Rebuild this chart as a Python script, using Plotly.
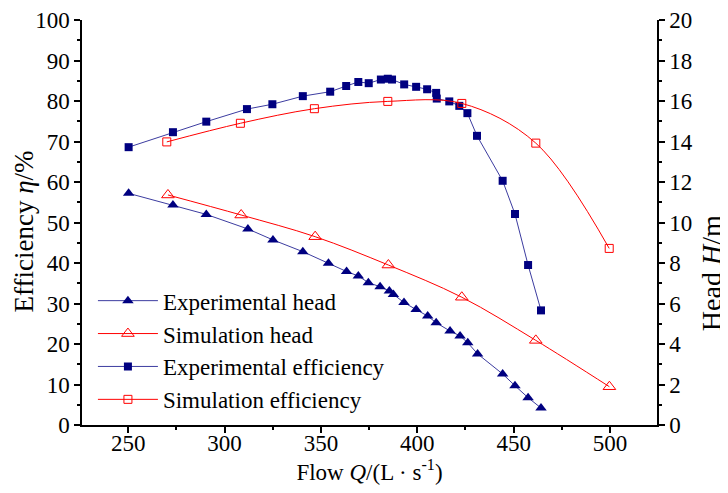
import plotly.graph_objects as go

# Experimental head (L/s, m)
exp_head_q = [250.2, 273.2, 290.5, 312.1, 325.1, 340.6, 353.9, 363.3, 369.4, 374.6, 380.7,
              385.5, 387.6, 393.1, 399.4, 405.4, 409.8, 417.0, 422.2, 426.2, 431.3,
              444.3, 450.7, 457.5, 464.2]
exp_head_h = [11.44, 10.86, 10.40, 9.68, 9.14, 8.56, 7.99, 7.58, 7.36, 7.03, 6.83,
              6.62, 6.45, 6.05, 5.70, 5.38, 5.05, 4.64, 4.40, 4.06, 3.51,
              2.52, 1.94, 1.35, 0.84]

# Simulation head
sim_head_q = [270.6, 308.6, 347.0, 385.0, 423.1, 461.5, 499.7]
sim_head_h = [11.36, 10.37, 9.30, 7.90, 6.31, 4.18, 1.89]

# Experimental efficiency (%)
exp_eff_q = [250.2, 273.2, 290.5, 311.6, 324.8, 340.6, 354.8, 363.1, 369.4, 374.8, 381.1,
             384.7, 386.9, 393.2, 399.4, 405.1, 409.8, 410.1, 416.6, 421.8, 426.0,
             431.0, 444.3, 450.7, 457.5, 464.2]
exp_eff_e = [68.6, 72.3, 74.9, 78.0, 79.2, 81.2, 82.3, 83.7, 84.7, 84.4, 85.3,
             85.5, 85.3, 84.1, 83.5, 82.9, 82.0, 80.6, 79.9, 78.8, 77.0,
             71.4, 60.3, 52.1, 39.5, 28.3]

# Simulation efficiency
sim_eff_q = [270.0, 308.2, 346.6, 384.7, 423.1, 461.5, 499.6]
sim_eff_e = [69.9, 74.5, 78.1, 79.9, 79.4, 69.6, 43.6]

NAVY = "#000080"
NAVY_LINE = "#3c3ca0"
RED = "#ff0000"
FONT = "Times New Roman, Liberation Serif, serif"

fig = go.Figure()
fig.add_trace(go.Scatter(x=exp_head_q, y=exp_head_h, yaxis="y2", mode="lines+markers",
                         name="Experimental head",
                         line=dict(color=NAVY_LINE, width=1),
                         marker=dict(symbol="triangle-up", size=10, color=NAVY)))
fig.add_trace(go.Scatter(x=sim_head_q, y=sim_head_h, yaxis="y2", mode="lines+markers",
                         name="Simulation head",
                         line=dict(color=RED, width=1, shape="spline"),
                         marker=dict(symbol="triangle-up-open", size=11, color=RED,
                                     line=dict(width=1))))
fig.add_trace(go.Scatter(x=exp_eff_q, y=exp_eff_e, mode="lines+markers",
                         name="Experimental efficiency",
                         line=dict(color=NAVY_LINE, width=1),
                         marker=dict(symbol="square", size=8, color=NAVY)))
fig.add_trace(go.Scatter(x=sim_eff_q, y=sim_eff_e, mode="lines+markers",
                         name="Simulation efficiency",
                         line=dict(color=RED, width=1, shape="spline"),
                         marker=dict(symbol="square-open", size=8, color=RED,
                                     line=dict(width=1))))

axis_common = dict(showline=True, linecolor="black", linewidth=1.5, ticks="outside",
                   ticklen=6, tickwidth=1.5, tickcolor="black", showgrid=False,
                   zeroline=False, automargin=False,
                   tickfont=dict(family=FONT, size=23, color="black"))

# The page body adds an 8 px offset; the figure is sized so the plot area lands
# where the reference has it inside the 728x493 window.
fig.update_layout(
    width=720, height=485,
    margin=dict(l=74, r=71, t=12, b=68, autoexpand=False),
    paper_bgcolor="white", plot_bgcolor="white",
    font=dict(family=FONT, size=23, color="black"),
    xaxis=dict(range=[226, 524.4], dtick=50, tick0=250, ticklabelstandoff=-9,
               minor=dict(dtick=25, tick0=250, ticks="outside", ticklen=3, tickcolor="black"),
               title=dict(text="Flow <i>Q</i>/(L · s<sup>-1</sup>)", standoff=0,
                          font=dict(family=FONT, size=23)),
               **axis_common),
    yaxis=dict(range=[0, 100], dtick=10,
               minor=dict(dtick=5, ticks="outside", ticklen=3, tickcolor="black"),
               **axis_common),
    yaxis2=dict(range=[0, 20], dtick=2, overlaying="y", side="right",
                minor=dict(dtick=1, ticks="outside", ticklen=3, tickcolor="black"),
                **axis_common),
    legend=dict(x=0.019, y=0.36, xanchor="left", yanchor="top",
                bgcolor="rgba(0,0,0,0)", font=dict(family=FONT, size=23),
                itemwidth=60, tracegroupgap=0),
    showlegend=True,
    annotations=[
        dict(text="Efficiency <i>η</i>/%", textangle=-90, xref="paper", yref="paper",
             x=-0.1, y=0.4765, xanchor="center", yanchor="middle", showarrow=False,
             font=dict(family=FONT, size=27, color="black")),
        dict(text="Head <i>H</i>/m", textangle=-90, xref="paper", yref="paper",
             x=1.094, y=0.375, xanchor="center", yanchor="middle", showarrow=False,
             font=dict(family=FONT, size=28, color="black")),
    ],
)

fig.write_html("out.html")
